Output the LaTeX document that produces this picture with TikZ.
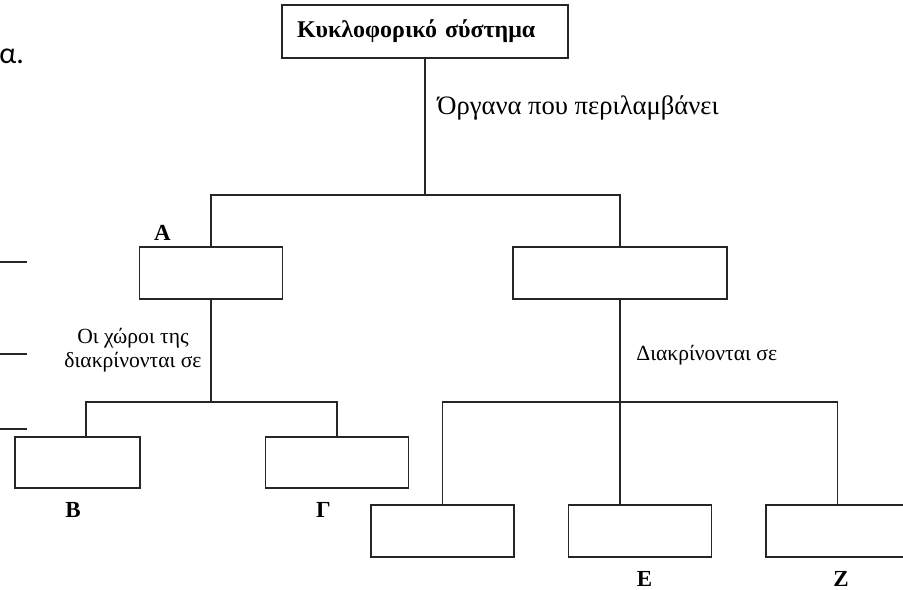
\documentclass[tikz,border=0pt]{standalone}
\usepackage{fontspec}
\setmainfont{Liberation Serif}
\newfontfamily\sidefont{Carlito}
\usetikzlibrary{positioning}
\tikzset{cell/.style={draw=black!85, line width=0.75pt, minimum width=71.5pt, minimum height=26pt},
letter/.style={font=\fontsize{11.5}{13}\selectfont\bfseries, inner sep=0pt},
note/.style={font=\fontsize{10.8}{12}\selectfont, inner sep=0pt},
link/.style={draw=black!85, line width=0.65pt}
}

\begin{document}
\begin{tikzpicture}[x=0.5pt, y=-0.5pt]
      \useasboundingbox (0,0) rectangle (903,589);
      \clip (0,0) rectangle (903,589);

      \node[cell, minimum height=26.5pt, text width=128pt, inner xsep=7.5pt, align=left,
            font=\fontsize{12}{14}\selectfont\bfseries] (system) at (425,31.5) {Κυκλοφορικό σύστημα};
      \node[cell]                        (boxA) at (211,273)      {};
      \node[cell, minimum width=107pt]   (boxV) at (620,273)      {};
      \node[cell, minimum width=62.5pt, minimum height=25.5pt] (boxB) at (77.5,462.5) {};
      \node[cell, minimum height=25.5pt] (boxG) [right=62pt of boxB] {};
      \node[cell]                        (boxD) at (442.5,531)    {};
      \node[cell]                        (boxE) [right=26.5pt of boxD] {};
      \node[cell, minimum width=73pt]    (boxZ) [right=26.5pt of boxE] {};

      \node[letter] (labA) [above right=2.5pt and 7.5pt of boxA.north west] {Α};
      \node[letter] (labB) [below=6.5pt of boxB, xshift=-2.25pt] {Β};
      \node[letter] (labG) [below=6.5pt of boxG, xshift=-6.75pt] {Γ};
      \node[letter] (labE) [below=6.5pt of boxE, xshift=2.25pt]  {Ε};
      \node[letter] (labZ) [below=6.5pt of boxZ, xshift=1pt]     {Ζ};

      \node[note, anchor=west, font=\fontsize{13.3}{15}\selectfont] (organsNote) at (437,108) {Όργανα που περιλαμβάνει};
      \node[note, align=center] (spaceNote)  at (133,350) {Οι χώροι της\\διακρίνονται σε};
      \node[note, anchor=west]  (kindNote)   at (636,355) {Διακρίνονται σε};

      \coordinate (fork1) at (425,195);
      \coordinate (fork2) at (211,402);
      \coordinate (fork3) at (620,402);

      \draw[link] (system) -- (fork1);
      \draw[link] (boxA) |- (fork1) -| (boxV);
      \draw[link] (boxA) -- (fork2);
      \draw[link] ([xshift=4.25pt]boxB.north) |- (fork2) -| (boxG);
      \draw[link] (boxV) -- (fork3);
      \draw[link] (boxD) |- (fork3) -| ([xshift=-0.75pt]boxZ.north);
      \draw[link] (fork3) -- (fork3 |- boxE.north);

      \node[font=\sidefont\fontsize{15}{17}\selectfont, anchor=west, inner sep=0pt] (edgeText) at (-1,56) {α.};
      \foreach \y in {262,354,429}
        \draw[link, line width=0.8pt] (0,\y) -- (27,\y);
\end{tikzpicture}
\end{document}
